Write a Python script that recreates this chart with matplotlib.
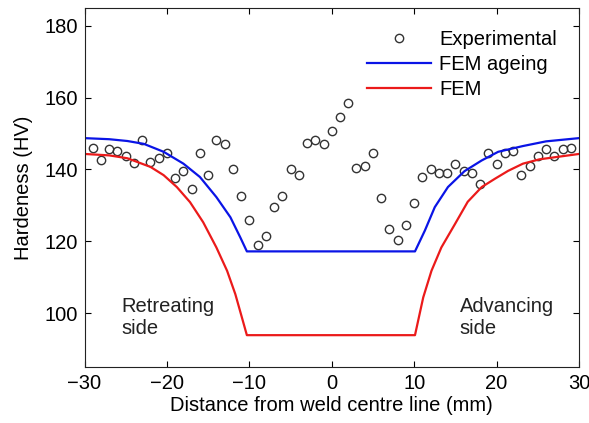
import numpy as np
import matplotlib
matplotlib.use("Agg")
import matplotlib.pyplot as plt

plt.rcParams['font.family'] = ['Liberation Sans', 'DejaVu Sans']

# Measured hardness (HV) at each position (mm)
exp_x = list(range(-29, 30))
exp_hv = [146.0, 142.5, 145.6, 145.1, 143.7, 141.9, 148.1, 142.0, 143.1, 144.5,
          137.5, 139.5, 134.5, 144.6, 138.5, 148.1, 147.0, 140.1, 132.6, 126.0,
          119.0, 121.5, 129.5, 132.6, 140.1, 138.5, 147.4, 148.1, 147.0, 150.6,
          154.6, 158.6, 140.5, 141.0, 144.6, 132.1, 123.5, 120.5, 124.6, 130.6,
          138.0, 140.1, 139.1, 139.1, 141.5, 139.5, 139.1, 136.0, 144.6, 141.5,
          144.6, 145.1, 138.5, 141.0, 143.6, 145.6, 143.6, 145.6, 146.0]

# FEM with ageing
ageing_x = [-30, -27, -24.8, -22.8, -20.4, -18.0, -16.0, -14.0, -12.3, -11.1, -10.3,
            10.1, 11.3, 12.5, 14.1, 16.1, 18.2, 20.2, 23.2, 26, 30]
ageing_hv = [148.7, 148.4, 147.9, 147.1, 144.9, 141.6, 137.9, 132.3, 126.7, 121.1, 117.2,
             117.2, 123.0, 129.5, 135.1, 139.5, 142.5, 144.9, 146.5, 147.8, 148.7]

# FEM without ageing
fem_x = [-30, -27, -24.8, -22.0, -20.4, -18.8, -17.2, -15.6, -14.0, -12.7, -11.7, -10.9, -10.3,
         10.1, 11.1, 12.1, 13.3, 14.9, 16.5, 18.2, 19.8, 21.4, 23.2, 25.2, 30]
fem_hv = [144.3, 143.9, 143.1, 140.7, 138.4, 135.1, 130.9, 125.3, 118.3, 111.8, 105.3, 98.8, 93.9,
          93.9, 104.4, 111.8, 118.3, 124.6, 131.0, 135.1, 137.4, 139.6, 141.6, 142.8, 144.3]

fig = plt.figure(figsize=(5.89, 4.23), dpi=100)
ax = fig.add_axes([0.1435, 0.132, 0.8395, 0.85])

ax.plot(exp_x, exp_hv, 'o', mfc='none', mec='#333333', ms=6, mew=1.0, label='Experimental')
ax.plot(ageing_x, ageing_hv, color='#0a14e6', lw=1.6, label='FEM ageing')
ax.plot(fem_x, fem_hv, color='#eb1a1a', lw=1.6, label='FEM')

ax.set_xlim(-30, 30)
ax.set_ylim(85, 185)
ax.set_xticks([-30, -20, -10, 0, 10, 20, 30])
ax.set_xticklabels(['\u221230', '\u221220', '\u221210', '0', '10', '20', '30'])
ax.set_yticks([100, 120, 140, 160, 180])
ax.tick_params(direction='in', length=4, width=0.8, labelsize=14.5, pad=5,
               top=True, right=True)
for s in ax.spines.values():
    s.set_linewidth(0.8)
    s.set_color('#222222')

ax.set_xlabel('Distance from weld centre line (mm)', fontsize=14.5, labelpad=2)
ax.set_ylabel('Hardeness (HV)', fontsize=14.5, labelpad=8)

ax.text(-25.5, 98.8, 'Retreating\nside', fontsize=14.5, ha='left', va='center',
        linespacing=1.25, color='#222222')
ax.text(15.5, 98.8, 'Advancing\nside', fontsize=14.5, ha='left', va='center',
        linespacing=1.25, color='#222222')

ax.legend(loc='upper right', frameon=False, fontsize=14.5, handlelength=3.2,
          handletextpad=0.4, labelspacing=0.3, borderaxespad=0.7, numpoints=1)

fig.savefig('out.png', dpi=100)
